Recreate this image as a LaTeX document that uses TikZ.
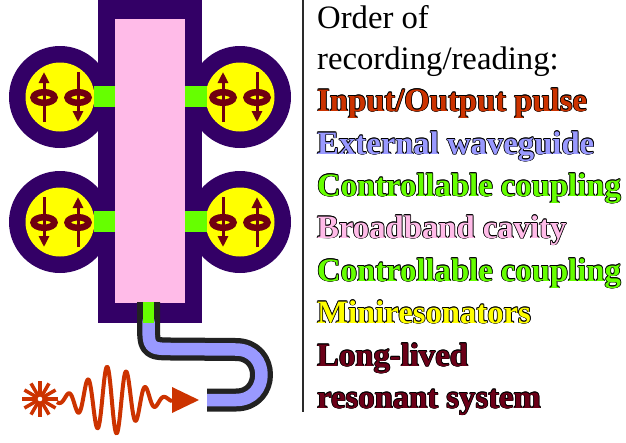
\documentclass[tikz,border=0pt]{standalone}
\usepackage{fontspec}
\setmainfont{Liberation Serif}
\usetikzlibrary{arrows.meta}
\definecolor{dpurple}{HTML}{330066}
\definecolor{cpink}{HTML}{FFBBE8}
\definecolor{cgreen}{HTML}{66FF00}
\definecolor{cyellow}{HTML}{FFFF00}
\definecolor{spinred}{HTML}{700010}
\definecolor{wgblue}{HTML}{9999FF}
\definecolor{wgblack}{HTML}{222222}
\definecolor{pulsered}{HTML}{CC3300}
\definecolor{sepgray}{HTML}{2A2A2A}
\definecolor{maroon}{HTML}{6B0018}
\newcommand\olt[2]{{\setbox0=\hbox{#2}%
 \def\ofs##1##2{\rlap{\kern##1\raise##2\hbox{\color{black}\copy0}}}%
 \ofs{0.75pt}{0pt}\ofs{-0.75pt}{0pt}\ofs{0pt}{0.75pt}\ofs{0pt}{-0.75pt}%
 \ofs{0.53pt}{0.53pt}\ofs{-0.53pt}{0.53pt}\ofs{0.53pt}{-0.53pt}\ofs{-0.53pt}{-0.53pt}%
 \textcolor{#1}{\copy0}}}
\tikzset{
  lbl/.style={anchor=base west, inner sep=0pt, font=\fontsize{32.7}{40}\selectfont},
  blbl/.style={lbl, font=\fontsize{32.7}{40}\selectfont\bfseries},
  spinarrow/.style={draw=spinred, line width=3pt, -{Triangle[length=11pt,width=10pt]}},
  spinring/.style={draw=spinred, line width=6.5pt},
  coupler/.style={fill=cgreen},
}
\newcommand\spinpair[3]{% cx, cy, s (1 top: left up)
  \draw[spinring] (#1-17,#2+0.5) ellipse [x radius=10.5pt, y radius=5.3pt];
  \draw[spinring] (#1+17,#2+0.5) ellipse [x radius=10.5pt, y radius=5.3pt];
  \draw[spinarrow] (#1-17,#2+25*#3) -- (#1-17,#2-25*#3);
  \draw[spinarrow] (#1+17,#2-25*#3) -- (#1+17,#2+25*#3);
}
\begin{document}
\begin{tikzpicture}[x=1pt,y=-1pt]
\useasboundingbox (0,0) rectangle (626,442);
% resonator housings
\foreach \cx/\cy in {60/97,60/222,240/97,240/222}{
  \fill[dpurple] (\cx,\cy) circle [radius=51pt];
}
\fill[dpurple] (98,0) rectangle (202,323);
\fill[cpink] (115,19) rectangle (185,303);
\foreach \cx/\cy in {60/97,60/222,240/97,240/222}{
  \fill[cyellow] (\cx,\cy) circle [radius=34.5pt];
}
% couplers
\fill[coupler] (94,86) rectangle (115,107);
\fill[coupler] (185,86) rectangle (207,107);
\fill[coupler] (94,211) rectangle (115,232);
\fill[coupler] (185,211) rectangle (207,232);
% spins
\spinpair{61}{97}{1}
\spinpair{240}{97}{1}
\spinpair{61}{222}{-1}
\spinpair{240}{222}{-1}
% waveguide
\draw[wgblack, line width=23pt, line join=round]
  (148.5,302) -- (148.5,322) .. controls (148.5,349) .. (175,349)
  -- (236,349.5) .. controls (270,349.5) and (270,400) .. (236,400) -- (207,400);
\draw[wgblue, line width=12.5pt, line join=round]
  (148.5,323) -- (148.5,322) .. controls (148.5,349) .. (175,349)
  -- (236,349.5) .. controls (270,349.5) and (270,400) .. (236,400) -- (207,400);
\fill[coupler] (143,302) rectangle (153.5,323);
% pulse
\foreach \a in {0,30,...,330}{
  \draw[pulsered, line width=3.5pt] (40,399) -- ++(\a:18);
}
\fill[white] (40,399) circle [radius=2.3pt];
\draw[pulsered, line width=4pt, line join=round]
  plot[domain=57:172, samples=240, smooth] (\x, {400 - 34*exp(-((\x-112)/34)^2)*cos((\x-107)/19.3*360)});
\fill[pulsered] (172,387) -- (199,400) -- (172,413) -- cycle;
% separator
\draw[sepgray, line width=2.2pt] (303,0) -- (303,412);
% legend
\node[lbl] (t1) at (317,28) {Order of};
\node[lbl] (t2) at (317,69) {recording/reading:};
\node[blbl] (t3) at (317,111) {\olt{pulsered}{Input/Output pulse}};
\node[blbl] (t4) at (317,154) {\olt{wgblue}{External waveguide}};
\node[blbl] (t5) at (317,196) {\olt{cgreen}{Controllable coupling}};
\node[blbl] (t6) at (317,238) {\olt{cpink}{Broadband cavity}};
\node[blbl] (t7) at (317,281) {\olt{cgreen}{Controllable coupling}};
\node[blbl] (t8) at (317,323) {\olt{cyellow}{Miniresonators}};
\node[blbl] (t9) at (317,366) {\olt{maroon}{Long-lived}};
\node[blbl] (t10) at (317,408) {\olt{maroon}{resonant system}};
\end{tikzpicture}
\end{document}
